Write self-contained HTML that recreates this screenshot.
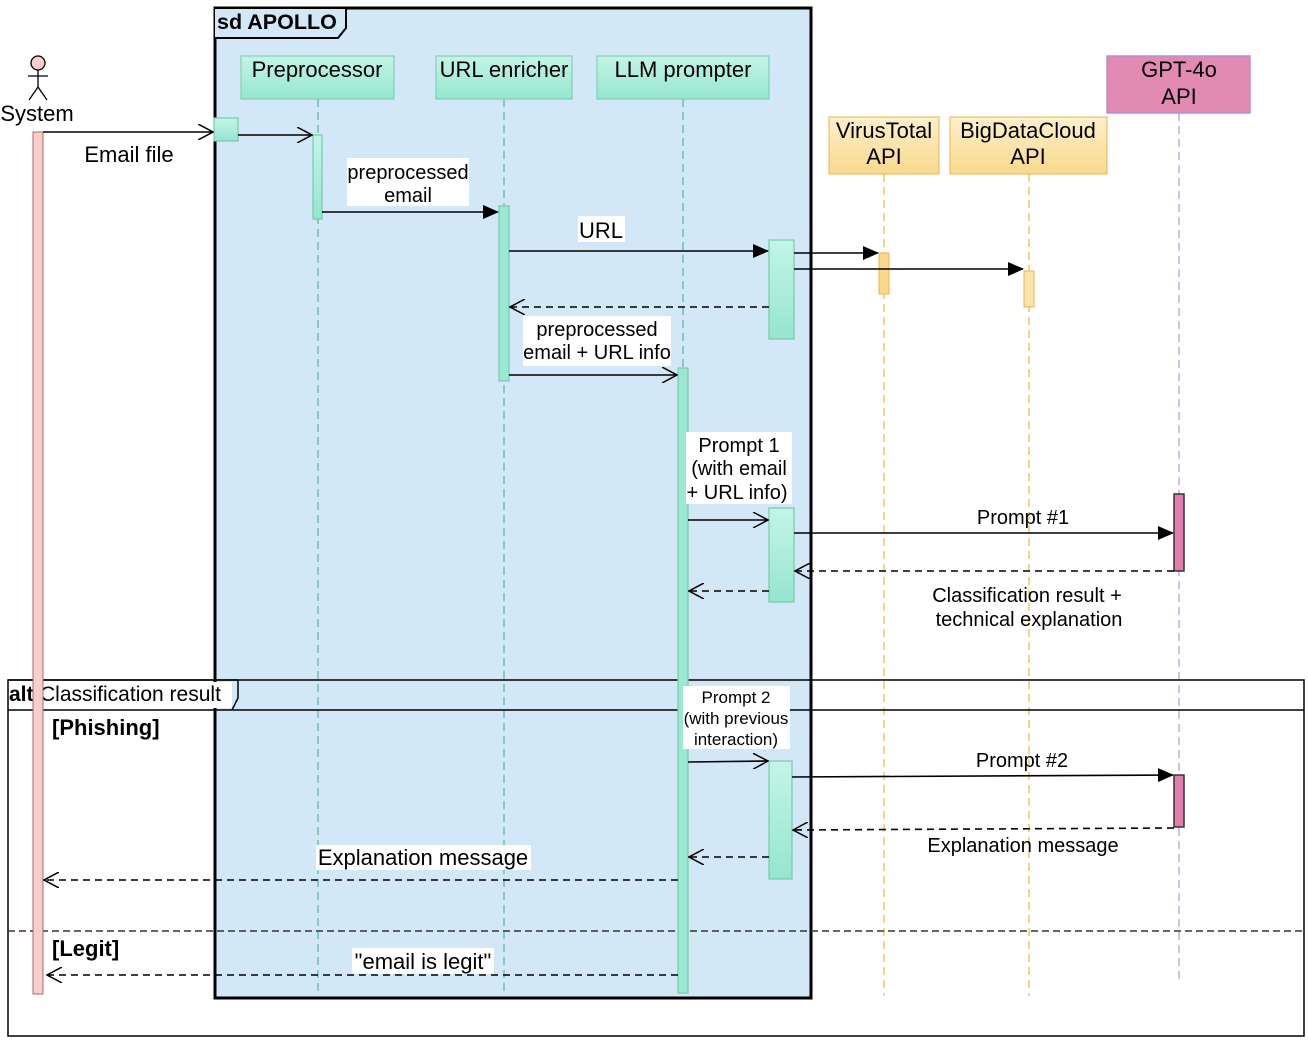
<!DOCTYPE html>
<html><head><meta charset="utf-8"><style>
html,body{margin:0;padding:0;background:#fff;}
svg{display:block;font-family:"Liberation Sans",sans-serif;}
</style></head><body>
<svg width="1308" height="1044" viewBox="0 0 1308 1044" xmlns="http://www.w3.org/2000/svg">
<defs>
<linearGradient id="mint" x1="0" y1="0" x2="0" y2="1"><stop offset="0" stop-color="#c4f5e6"/><stop offset="1" stop-color="#95e6cf"/></linearGradient>
<linearGradient id="gold" x1="0" y1="0" x2="0" y2="1"><stop offset="0" stop-color="#fdf0cc"/><stop offset="1" stop-color="#f9d98c"/></linearGradient>
<marker id="fill" markerWidth="16" markerHeight="14" refX="15" refY="7" orient="auto" markerUnits="userSpaceOnUse"><path d="M0,0 L16,7 L0,14 Z" fill="#000"/></marker>
<marker id="open" markerWidth="16" markerHeight="16" refX="15" refY="8" orient="auto" markerUnits="userSpaceOnUse"><path d="M0,0 L15,8 L0,16" fill="none" stroke="#000" stroke-width="1.5"/></marker>
</defs>

<rect x="215" y="8" width="596" height="990" fill="#d3e8f6" stroke="#000" stroke-width="3"/>
<path d="M215,8 L346,8 L346,28 L338,38 L215,38" fill="#d3e8f6" stroke="#000" stroke-width="2"/>
<text x="217" y="29" font-size="21.5" font-weight="bold">sd APOLLO</text>

<g stroke-dasharray="8,5" stroke-width="1.5" fill="none">
<line x1="318" y1="99" x2="318" y2="996" stroke="#6fbfae"/>
<line x1="504" y1="99" x2="504" y2="996" stroke="#6fbfae"/>
<line x1="683" y1="99" x2="683" y2="996" stroke="#6fbfae"/>
<line x1="884" y1="174" x2="884" y2="996" stroke="#f0c36a"/>
<line x1="1029" y1="174" x2="1029" y2="996" stroke="#f0c36a"/>
<line x1="1179" y1="113" x2="1179" y2="980" stroke="#c9a8e6"/>
</g>

<rect x="8" y="680" width="1296" height="356" fill="none" stroke="#000" stroke-width="1.5"/>
<line x1="8" y1="710" x2="1304" y2="710" stroke="#000" stroke-width="1.5"/>
<path d="M8,680 L238,680 L238,698 L232,710" fill="none" stroke="#000" stroke-width="1.5"/>
<rect x="38" y="682" width="194" height="26" fill="#fff"/>
<text x="9" y="701" font-size="21"><tspan font-weight="bold">alt</tspan><tspan x="40">Classification result</tspan></text>
<line x1="8" y1="931" x2="1304" y2="931" stroke="#333" stroke-width="1.5" stroke-dasharray="7,4"/>
<text x="52" y="735" font-size="22" font-weight="bold">[Phishing]</text>
<text x="52" y="956" font-size="22" font-weight="bold">[Legit]</text>

<g stroke="#000" stroke-width="1.3" fill="none">
<circle cx="38" cy="63" r="7" fill="#f8cecc"/>
<line x1="38" y1="70" x2="38" y2="87"/><line x1="28" y1="76" x2="48" y2="76"/>
<line x1="38" y1="87" x2="29" y2="100"/><line x1="38" y1="87" x2="47" y2="100"/>
</g>
<text x="37" y="121" font-size="22" text-anchor="middle">System</text>
<rect x="33" y="132" width="10" height="862" fill="#f8cecc" stroke="#a86a68"/>

<g font-size="22" text-anchor="middle">
<rect x="241" y="56" width="153" height="43" fill="url(#mint)" stroke="#78c9ae"/>
<text x="317" y="77">Preprocessor</text>
<rect x="436" y="56" width="136" height="43" fill="url(#mint)" stroke="#78c9ae"/>
<text x="504" y="77">URL enricher</text>
<rect x="597" y="56" width="172" height="43" fill="url(#mint)" stroke="#78c9ae"/>
<text x="683" y="77">LLM prompter</text>
<rect x="829" y="117" width="110" height="57" fill="url(#gold)" stroke="#e7b650"/>
<text x="884" y="138">VirusTotal</text><text x="884" y="164">API</text>
<rect x="950" y="117" width="157" height="57" fill="url(#gold)" stroke="#e7b650"/>
<text x="1028" y="138">BigDataCloud</text><text x="1028" y="164">API</text>
<rect x="1107" y="56" width="143" height="57" fill="#e38ab3" stroke="#b590d4" stroke-width="1.5"/>
<text x="1179" y="77">GPT-4o</text><text x="1179" y="104">API</text>
</g>

<g stroke="#78c9ae" stroke-width="1.2">
<rect x="214" y="118" width="24" height="23" fill="url(#mint)"/>
<rect x="313" y="135" width="9" height="84" fill="url(#mint)"/>
<rect x="499" y="206" width="10" height="175" fill="#9be8d0"/>
<rect x="678" y="368" width="10" height="625" fill="#9be8d0"/>
<rect x="769" y="240" width="25" height="99" fill="url(#mint)"/>
<rect x="769" y="508" width="25" height="94" fill="url(#mint)"/>
<rect x="769" y="761" width="23" height="118" fill="url(#mint)"/>
</g>
<rect x="879" y="253" width="10" height="41" fill="#fcd88a" stroke="#e7b650"/>
<rect x="1024" y="271" width="10" height="36" fill="#fce3a8" stroke="#e7b650"/>
<rect x="1174" y="494" width="10" height="77" fill="#e07fae" stroke="#333" stroke-width="1.5"/>
<rect x="1174" y="775" width="10" height="52" fill="#e07fae" stroke="#333" stroke-width="1.5"/>

<g stroke="#000" stroke-width="1.6" fill="none">
<line x1="43" y1="132" x2="213" y2="132" marker-end="url(#open)"/>
<line x1="238" y1="135" x2="312" y2="135" marker-end="url(#open)"/>
<line x1="322" y1="212" x2="498" y2="212" marker-end="url(#fill)"/>
<line x1="509" y1="251" x2="768" y2="251" marker-end="url(#fill)"/>
<line x1="794" y1="253" x2="878" y2="253" marker-end="url(#fill)"/>
<line x1="794" y1="269" x2="1023" y2="269" marker-end="url(#fill)"/>
<line x1="769" y1="307" x2="510" y2="307" stroke-dasharray="7,5" marker-end="url(#open)"/>
<line x1="509" y1="375" x2="677" y2="375" marker-end="url(#open)"/>
<line x1="688" y1="520" x2="768" y2="520" marker-end="url(#open)"/>
<line x1="794" y1="533" x2="1173" y2="533" marker-end="url(#fill)"/>
<line x1="1174" y1="571" x2="795" y2="571" stroke-dasharray="7,5" marker-end="url(#open)"/>
<line x1="769" y1="591" x2="689" y2="591" stroke-dasharray="7,5" marker-end="url(#open)"/>
<line x1="688" y1="762" x2="768" y2="761" marker-end="url(#open)"/>
<line x1="792" y1="777" x2="1173" y2="775" marker-end="url(#fill)"/>
<line x1="1174" y1="828" x2="793" y2="830" stroke-dasharray="7,5" marker-end="url(#open)"/>
<line x1="769" y1="857" x2="689" y2="857" stroke-dasharray="7,5" marker-end="url(#open)"/>
<line x1="678" y1="880" x2="44" y2="880" stroke-dasharray="7,5" marker-end="url(#open)"/>
<line x1="678" y1="975" x2="47" y2="975" stroke-dasharray="7,5" marker-end="url(#open)"/>
</g>

<g font-size="20" text-anchor="middle">
<text x="129" y="162" font-size="22">Email file</text>
<rect x="347" y="158" width="122" height="48" fill="#fff"/>
<text x="408" y="179">preprocessed</text><text x="408" y="202">email</text>
<rect x="578" y="216" width="47" height="26" fill="#fff"/>
<text x="601" y="238" font-size="22">URL</text>
<rect x="523" y="316" width="148" height="50" fill="#fff"/>
<text x="597" y="336">preprocessed</text><text x="597" y="359">email + URL info</text>
<rect x="686" y="432" width="106" height="72" fill="#fff"/>
<text x="739" y="452">Prompt 1</text><text x="739" y="475">(with email</text><text x="737" y="499">+ URL info)</text>
<text x="1023" y="524">Prompt #1</text>
<text x="1027" y="602">Classification result +</text><text x="1029" y="626">technical explanation</text>
<rect x="683" y="686" width="107" height="63" fill="#fff"/>
<text x="736" y="703" font-size="17">Prompt 2</text><text x="736" y="724" font-size="17">(with previous</text><text x="736" y="745" font-size="17">interaction)</text>
<text x="1022" y="767">Prompt #2</text>
<text x="1023" y="852">Explanation message</text>
<rect x="316" y="845" width="215" height="25" fill="#fff"/>
<text x="423" y="865" font-size="22">Explanation message</text>
<rect x="352" y="948" width="142" height="26" fill="#fff"/>
<text x="423" y="969" font-size="22">"email is legit"</text>
</g>
</svg>
</body></html>
